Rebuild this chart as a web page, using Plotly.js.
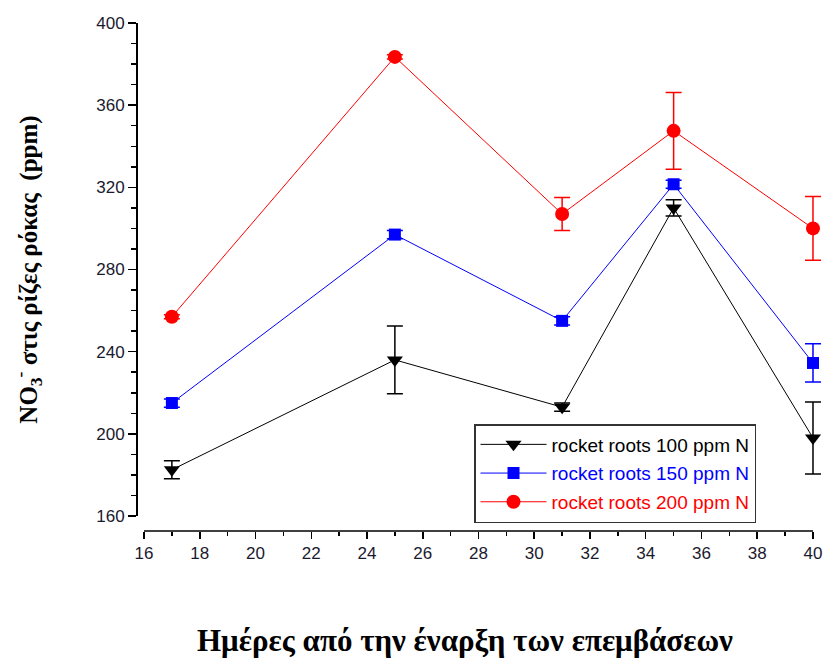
<!DOCTYPE html>
<html>
<head>
<meta charset="utf-8">
<script src="https://cdn.plot.ly/plotly-3.0.1.min.js"></script>
<style>html,body{margin:0;padding:0;background:#fff;}#chart{width:825px;height:660px;}</style>
</head>
<body>
<div id="chart"></div>
<script>
var days = [17, 25, 31, 35, 40];

var roots100 = [182.5, 236, 213, 310, 198];
var roots100Err = [4.4, 16.5, 2, 4, 17.5];

var roots150 = [215, 297, 255, 321.5, 234.5];
var roots150Err = [2, 2, 2, 2, 9.3];

var roots200 = [257, 383.5, 307, 347.5, 300];
var roots200Err = [1, 1, 8, 18.7, 15.5];

var seriesNames = ['rocket roots 100 ppm N', 'rocket roots 150 ppm N', 'rocket roots 200 ppm N'];

var xTitle = 'Ημέρες από την έναρξη των επεμβάσεων';
var yTitle = 'NO<sub>3</sub><sup>-</sup> στις ρίζες ρόκας  (ppm)';

var xMin = 16, xMax = 40;

function mk(y, err, color, symbol, size, name, grp) {
  return {
    x: days, y: y, type: 'scatter', mode: 'lines+markers',
    cliponaxis: false, legendgroup: grp,
    name: '<span style="color:' + color + '">' + name + '</span>',
    line: {color: color, width: 1},
    marker: {color: color, symbol: symbol, size: size},
    error_y: {type: 'data', array: err, visible: true, color: color, thickness: 1.5, width: 8}
  };
}

var data = [
  mk(roots100, roots100Err, '#000000', 'triangle-down', 14, seriesNames[0], 'a'),
  mk(roots150, roots150Err, '#0000ff', 'square', 12, seriesNames[1], 'b'),
  mk(roots200, roots200Err, '#ff0000', 'circle', 14, seriesNames[2], 'c')
];

var tickFont = {family: 'Arial, Liberation Sans, sans-serif', size: 17, color: '#1a1a2e'};
var serif = 'Liberation Serif, Times New Roman, serif';

var layout = {
  width: 825, height: 660,
  margin: {l: 136, r: 1, t: 23, b: 129},
  paper_bgcolor: '#fff', plot_bgcolor: '#fff',
  showlegend: true,
  xaxis: {
    domain: [0.01163, 1], range: [xMin, xMax + 0.395], anchor: 'free', position: 0,
    showline: false,
    showgrid: false, zeroline: false,
    tickmode: 'linear', tick0: 16, dtick: 2, ticks: 'outside', ticklen: 7, tickwidth: 1.5, tickcolor: '#000',
    minor: {dtick: 1, ticks: 'outside', ticklen: 4, tickwidth: 1.5, tickcolor: '#000', showgrid: false},
    tickfont: tickFont
  },
  yaxis: {
    domain: [0.0295, 1], range: [160, 400], anchor: 'free', position: 0,
    showline: true, linecolor: '#000', linewidth: 1.5,
    showgrid: false, zeroline: false,
    tickmode: 'linear', tick0: 160, dtick: 40, ticks: 'outside', ticklen: 8, tickwidth: 1.5, tickcolor: '#000',
    minor: {dtick: 10, ticks: 'outside', ticklen: 5, tickwidth: 1.5, tickcolor: '#000', showgrid: false},
    tickfont: tickFont,
    title: {text: yTitle, font: {family: serif, size: 25, color: '#000', weight: 'bold'}, standoff: 50}
  },
  shapes: [{
    type: 'line', xref: 'x', yref: 'paper', x0: xMin, x1: xMax, y0: 0, y1: 0,
    line: {color: '#000', width: 1.5}
  }],
  annotations: [{
    text: xTitle, xref: 'paper', yref: 'paper', x: 0.478, y: -0.2146,
    xanchor: 'center', yanchor: 'middle', showarrow: false,
    font: {family: serif, size: 31, color: '#000', weight: 'bold'}
  }],
  legend: {
    x: 0.4913, y: 0.2106, xanchor: 'left', yanchor: 'top',
    bgcolor: '#fff', bordercolor: '#333', borderwidth: 1.5,
    font: {family: 'Arial, Liberation Sans, sans-serif', size: 19, color: '#000'},
    itemwidth: 66, tracegroupgap: 1
  }
};

Plotly.newPlot('chart', data, layout, {displayModeBar: false, staticPlot: true});
</script>
</body>
</html>
